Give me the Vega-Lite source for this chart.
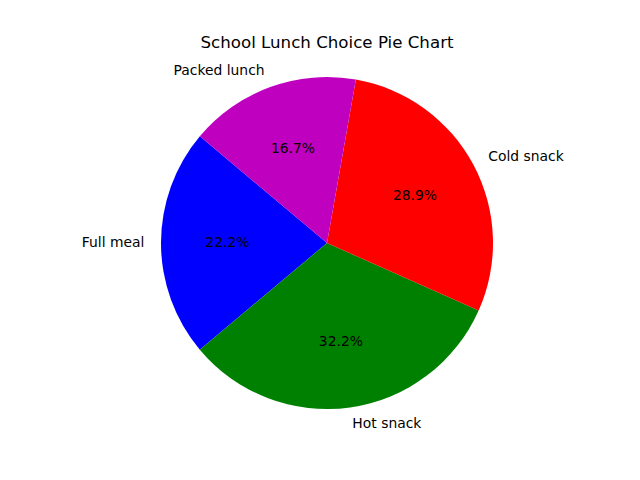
{
  "$schema": "https://vega.github.io/schema/vega-lite/v6.json",
  "autosize": {"type": "none"},
  "width": 626,
  "height": 364,
  "padding": {"left": 14, "right": 0, "top": 61, "bottom": 55},
  "background": "white",
  "config": {"view": {"stroke": null}, "font": "DejaVu Sans"},
  "title": {
    "text": "School Lunch Choice Pie Chart",
    "font": "DejaVu Sans",
    "fontSize": 16.67,
    "fontWeight": "normal",
    "color": "black",
    "anchor": "middle",
    "frame": "group",
    "offset": 9
  },
  "data": {
    "values": [
      {"label": "Full meal", "share": 0.2222, "idx": 0},
      {"label": "Hot snack", "share": 0.3222, "idx": 1},
      {"label": "Cold snack", "share": 0.2889, "idx": 2},
      {"label": "Packed lunch", "share": 0.1667, "idx": 3}
    ]
  },
  "encoding": {
    "theta": {"field": "share", "type": "quantitative", "stack": true, "scale": {"range": [-0.87266, 5.41052]}},
    "order": {"field": "idx", "sort": "descending"}
  },
  "layer": [
    {
      "mark": {"type": "arc", "outerRadius": 166, "stroke": null},
      "encoding": {
        "color": {
          "field": "label",
          "type": "nominal",
          "legend": null,
          "scale": {"domain": ["Full meal", "Hot snack", "Cold snack", "Packed lunch"], "range": ["#0000ff", "#008000", "#ff0000", "#bf00bf"]}
        }
      }
    },
    {
      "mark": {"type": "text", "radius": 99.6, "fontSize": 13.89, "font": "DejaVu Sans", "color": "black", "align": "center", "baseline": "middle"},
      "encoding": {"text": {"field": "share", "type": "quantitative", "format": ".1%"}}
    },
    {
      "mark": {"type": "text", "radius": 182.6, "fontSize": 13.89, "font": "DejaVu Sans", "color": "black", "baseline": "middle",
        "align": {"expr": "(datum.label == 'Full meal' || datum.label == 'Packed lunch') ? 'right' : 'left'"}},
      "encoding": {"text": {"field": "label", "type": "nominal"}}
    }
  ]
}
